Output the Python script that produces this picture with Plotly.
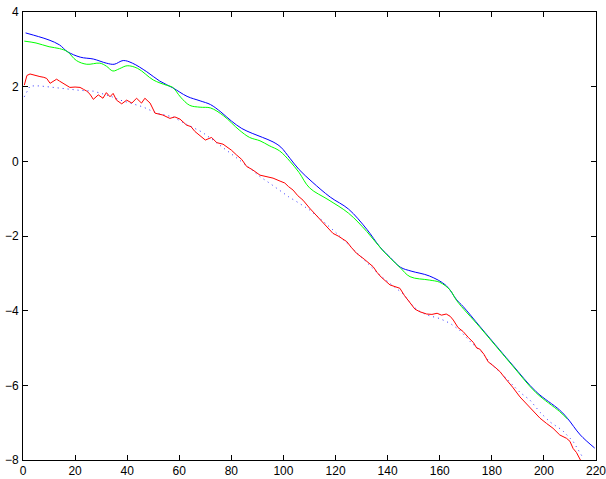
import plotly.graph_objects as go

blue_x = [1, 6, 10, 14, 17, 22, 27, 32, 35, 38.5, 42, 47.5, 52.5, 57.5, 63, 68, 72, 76, 80, 84, 88, 92, 96, 99, 102.5, 106, 111, 118, 125, 132, 137, 141, 145, 149, 156, 162.5, 166.5, 169, 175.5, 183, 188, 197, 206, 209, 214, 219.5]
blue_y = [3.44, 3.34, 3.25, 3.12, 2.94, 2.79, 2.74, 2.63, 2.60, 2.70, 2.63, 2.40, 2.15, 1.97, 1.74, 1.62, 1.52, 1.32, 1.08, 0.88, 0.75, 0.64, 0.52, 0.38, 0.08, -0.22, -0.55, -0.96, -1.28, -1.82, -2.29, -2.58, -2.84, -2.94, -3.07, -3.33, -3.71, -3.89, -4.43, -5.05, -5.46, -6.17, -6.66, -6.88, -7.33, -7.68]

green_x = [0.5, 5, 10, 14, 17, 20.5, 24.5, 29.5, 32, 34.5, 37, 40, 44, 50, 55, 57.5, 60.5, 64, 68, 72, 77, 83, 87, 91, 94.5, 98.5, 102.5, 106, 110, 117.5, 125, 132, 138, 144.7, 148.6, 156, 160, 164, 166.5, 175.5, 188, 197, 206, 209]
green_y = [3.22, 3.17, 3.07, 3.02, 2.94, 2.70, 2.60, 2.63, 2.55, 2.42, 2.48, 2.56, 2.49, 2.18, 2.04, 1.98, 1.72, 1.50, 1.45, 1.43, 1.22, 0.84, 0.64, 0.55, 0.42, 0.28, 0.00, -0.30, -0.71, -1.04, -1.39, -1.88, -2.38, -2.84, -3.09, -3.18, -3.24, -3.45, -3.73, -4.45, -5.48, -6.20, -6.70, -6.90]

red_x = [0.5, 1.5, 2.7, 4.5, 6.5, 8, 9.1, 10.4, 11.5, 12.9, 14, 15.4, 17, 18, 20, 21.9, 23.2, 24.5, 25.7, 27, 28.9, 30.7, 32, 33.4, 34.6, 35.9, 37.9, 39.8, 41.8, 43.6, 45.5, 46.8, 48.8, 50.7, 53.7, 56.4, 58.3, 60.3, 62.8, 64.5, 66, 68, 70, 72.4, 74.4, 76.8, 78.2, 80, 82, 84, 85.9, 88, 91, 93.5, 96, 98.7, 100.5, 102, 103.7, 105.5, 107.5, 110, 112, 114, 116, 119, 121, 124.3, 126, 128, 131, 134.4, 136, 137.5, 140.9, 144.7, 146.5, 148.6, 150.5, 152.4, 155, 157, 159, 160.7, 162.5, 164, 165.2, 167, 169, 171, 172.9, 174.2, 175.4, 177, 178.6, 181, 183.1, 185, 186.3, 188, 190.8, 193, 195.9, 198.5, 201, 203.5, 206.1, 208.7, 210, 211.2, 212.5, 214.4]
red_y = [2.04, 2.30, 2.34, 2.30, 2.27, 2.25, 2.22, 2.09, 2.14, 2.20, 2.15, 2.09, 2.00, 1.98, 1.99, 1.98, 1.93, 1.88, 1.80, 1.66, 1.78, 1.69, 1.84, 1.73, 1.82, 1.64, 1.54, 1.64, 1.56, 1.69, 1.56, 1.69, 1.56, 1.29, 1.24, 1.15, 1.19, 1.13, 0.97, 0.93, 0.80, 0.68, 0.57, 0.64, 0.50, 0.46, 0.39, 0.30, 0.17, 0.05, -0.14, -0.22, -0.37, -0.42, -0.45, -0.53, -0.58, -0.68, -0.77, -0.92, -1.04, -1.25, -1.40, -1.53, -1.68, -1.93, -2.00, -2.15, -2.30, -2.46, -2.62, -2.82, -2.98, -3.10, -3.31, -3.40, -3.60, -3.80, -3.96, -4.03, -4.09, -4.10, -4.07, -4.12, -4.09, -4.15, -4.25, -4.45, -4.56, -4.72, -4.85, -5.00, -5.03, -5.17, -5.37, -5.50, -5.63, -5.80, -5.90, -6.05, -6.31, -6.48, -6.68, -6.88, -7.02, -7.15, -7.33, -7.42, -7.50, -7.69, -7.80, -8.05]

dot_x = [0.5, 2.7, 6.5, 12, 17, 22, 27, 30, 33.4, 37.3, 42, 46, 51.3, 57.6, 62.8, 66.7, 68.6, 72, 78.2, 83, 87, 91, 95, 98.7, 102, 106, 110, 114, 120, 126, 132, 137, 142, 146, 150, 153, 156.2, 160, 164, 167.6, 172, 176, 180, 184, 188, 191, 194.6, 198.5, 202.3, 207, 211.2, 215]
dot_y = [1.73, 2.02, 2.02, 1.98, 1.93, 1.90, 1.88, 1.82, 1.75, 1.64, 1.55, 1.46, 1.29, 1.19, 0.99, 0.86, 0.79, 0.62, 0.30, 0.04, -0.18, -0.41, -0.60, -0.79, -0.95, -1.12, -1.30, -1.53, -1.90, -2.30, -2.70, -3.05, -3.33, -3.55, -3.90, -4.05, -4.14, -4.21, -4.34, -4.52, -4.85, -5.10, -5.45, -5.70, -5.99, -6.20, -6.39, -6.72, -6.98, -7.20, -7.50, -7.94]

x_ticks = list(range(0, 221, 20))
y_ticks = list(range(-8, 5, 2))

fig = go.Figure()
fig.add_trace(go.Scatter(x=dot_x, y=dot_y, mode="lines",
                         line=dict(color="#3333ff", width=1, dash="1px,4px")))
fig.add_trace(go.Scatter(x=blue_x, y=blue_y, mode="lines",
                         line=dict(color="#0000ff", width=1, shape="spline")))
fig.add_trace(go.Scatter(x=green_x, y=green_y, mode="lines",
                         line=dict(color="#00ff00", width=1, shape="spline")))
fig.add_trace(go.Scatter(x=red_x, y=red_y, mode="lines",
                         line=dict(color="#ff0000", width=1)))

axis_common = dict(showgrid=False, zeroline=False, showline=True, linecolor="black",
                   linewidth=1, mirror="ticks", ticks="inside", ticklen=5,
                   tickcolor="black", automargin=False, ticklabeloverflow="allow",
                   tickfont=dict(family="Liberation Sans, Arial", size=12, color="black"))

fig.update_xaxes(range=[0, 220], tickvals=x_ticks, ticklabelstandoff=0, **axis_common)
fig.update_yaxes(range=[-8, 4], tickvals=y_ticks, ticklabelstandoff=1, **axis_common)

fig.update_layout(width=606, height=479, showlegend=False,
                  margin=dict(l=23, r=10, t=12, b=19),
                  plot_bgcolor="white", paper_bgcolor="white")

fig.write_html("out.html")
